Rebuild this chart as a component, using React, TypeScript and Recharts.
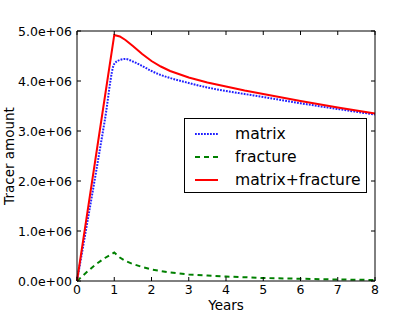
import { LineChart, Line, XAxis, YAxis, Legend, Label } from 'recharts'

// time in years
const YEARS = [0, 0.25, 0.5, 0.75, 1, 1.15, 1.3, 1.5, 1.75, 2, 2.25, 2.5, 3, 3.5, 4, 4.5, 5, 6, 7, 8]
// tracer amounts in units of 1e6
const MATRIX = [0, 1.06, 2.13, 3.23, 4.34, 4.42, 4.44, 4.39, 4.3, 4.2, 4.12, 4.06, 3.96, 3.87, 3.8, 3.74, 3.68, 3.555, 3.44, 3.33]
const FRACTURE = [0, 0.17, 0.33, 0.46, 0.57, 0.47, 0.4, 0.34, 0.28, 0.23, 0.2, 0.17, 0.13, 0.11, 0.09, 0.075, 0.06, 0.045, 0.03, 0.02]
const TOTAL = [0, 1.23, 2.46, 3.69, 4.92, 4.89, 4.82, 4.7, 4.54, 4.4, 4.29, 4.2, 4.07, 3.97, 3.89, 3.81, 3.74, 3.6, 3.47, 3.35]

const X_TICKS = [0, 1, 2, 3, 4, 5, 6, 7, 8]
const Y_TICKS = [0, 1e6, 2e6, 3e6, 4e6, 5e6]

const SERIES = [
  { key: 'matrix', label: 'matrix', color: '#2020ff', dash: '1.8 1.2' },
  { key: 'fracture', label: 'fracture', color: '#008000', dash: '5 4' },
  { key: 'total', label: 'matrix+fracture', color: '#ff0000', dash: undefined },
]

const FONT = '"DejaVu Sans", sans-serif'

const data = YEARS.map((year, i) => ({
  year,
  matrix: MATRIX[i] * 1e6,
  fracture: FRACTURE[i] * 1e6,
  total: TOTAL[i] * 1e6,
}))

// matplotlib style: 5.0e+06
function sci(v: number) {
  const [m, e] = v.toExponential(1).split('e')
  const n = Math.abs(parseInt(e, 10))
  return `${m}e${e[0] === '-' ? '-' : '+'}${n < 10 ? '0' + n : n}`
}

const BottomTick = ({ x, y, payload }: any) => (
  <g>
    <line x1={x} x2={x} y1={y} y2={y - 4} stroke="#000" />
    <text x={x} y={y + 13} textAnchor="middle" fontSize={12.5} fontFamily={FONT} fill="#000">
      {payload.value}
    </text>
  </g>
)

const LeftTick = ({ x, y, payload }: any) => (
  <g>
    <line x1={x} x2={x + 4} y1={y} y2={y} stroke="#000" />
    <text x={x - 5} y={y + 4.5} textAnchor="end" fontSize={12.5} fontFamily={FONT} fill="#000">
      {sci(payload.value)}
    </text>
  </g>
)

const TopTick = ({ x, y }: any) => <line x1={x} x2={x} y1={y} y2={y + 4} stroke="#000" />
const RightTick = ({ x, y }: any) => <line x1={x - 4} x2={x} y1={y} y2={y} stroke="#000" />

const renderLegend = () => (
  <div
    style={{
      border: '1px solid #000',
      background: '#fff',
      boxSizing: 'border-box',
      width: 183,
      height: 75,
      paddingTop: 3,
      fontFamily: FONT,
      fontSize: 15.6,
    }}
  >
    {SERIES.map((s) => (
      <div key={s.key} style={{ display: 'flex', alignItems: 'center', height: 23 }}>
        <svg width={23} height={10} style={{ marginLeft: 10, marginRight: 17 }}>
          <line x1={0} x2={23} y1={5} y2={5} stroke={s.color} strokeWidth={2} strokeDasharray={s.dash} />
        </svg>
        <span>{s.label}</span>
      </div>
    ))}
  </div>
)

export default function App() {
  return (
    <div style={{ position: 'absolute', left: 0, top: 0, width: 417, height: 313, background: '#fff' }}>
      <LineChart width={417} height={313} data={data} margin={{ top: 30, right: 41, left: 0, bottom: 0 }}>
        <XAxis
          dataKey="year"
          type="number"
          domain={[0, 8]}
          ticks={X_TICKS}
          height={32}
          stroke="#000"
          tickSize={0}
          tickMargin={0}
          tickLine={false}
          tick={<BottomTick />}
          interval={0}
        >
          <Label
            content={() => (
              <text x={226} y={310} textAnchor="middle" fontSize={13.5} fontFamily={FONT} fill="#000">
                Years
              </text>
            )}
          />
        </XAxis>
        <XAxis
          xAxisId="top"
          orientation="top"
          dataKey="year"
          type="number"
          domain={[0, 8]}
          ticks={X_TICKS}
          height={1}
          stroke="#000"
          tickSize={0}
          tickMargin={0}
          tickLine={false}
          tick={<TopTick />}
          interval={0}
        />
        <YAxis
          type="number"
          domain={[0, 5e6]}
          ticks={Y_TICKS}
          width={77}
          stroke="#000"
          tickSize={0}
          tickMargin={0}
          tickLine={false}
          tick={<LeftTick />}
          interval={0}
        >
          <Label
            content={() => (
              <text
                x={9}
                y={156}
                textAnchor="middle"
                dominantBaseline="central"
                transform="rotate(-90 9 156)"
                fontSize={13.5}
                fontFamily={FONT}
                fill="#000"
              >
                Tracer amount
              </text>
            )}
          />
        </YAxis>
        <YAxis
          yAxisId="right"
          orientation="right"
          type="number"
          domain={[0, 5e6]}
          ticks={Y_TICKS}
          width={1}
          stroke="#000"
          tickSize={0}
          tickMargin={0}
          tickLine={false}
          tick={<RightTick />}
          interval={0}
        />
        {/* invisible series so the top and right frame axes get drawn */}
        <Line
          xAxisId="top"
          yAxisId="right"
          dataKey="total"
          stroke="none"
          dot={false}
          activeDot={false}
          legendType="none"
          isAnimationActive={false}
        />
        {SERIES.map((s) => (
          <Line
            key={s.key}
            dataKey={s.key}
            type={s.key === 'matrix' ? 'monotone' : 'linear'}
            stroke={s.color}
            strokeWidth={2}
            strokeDasharray={s.dash}
            dot={false}
            isAnimationActive={false}
          />
        ))}
        <Legend
          layout="vertical"
          align="center"
          verticalAlign="middle"
          content={renderLegend}
          wrapperStyle={{ position: 'absolute', left: 184, top: 118, width: 183, height: 75 }}
        />
      </LineChart>
    </div>
  )
}
